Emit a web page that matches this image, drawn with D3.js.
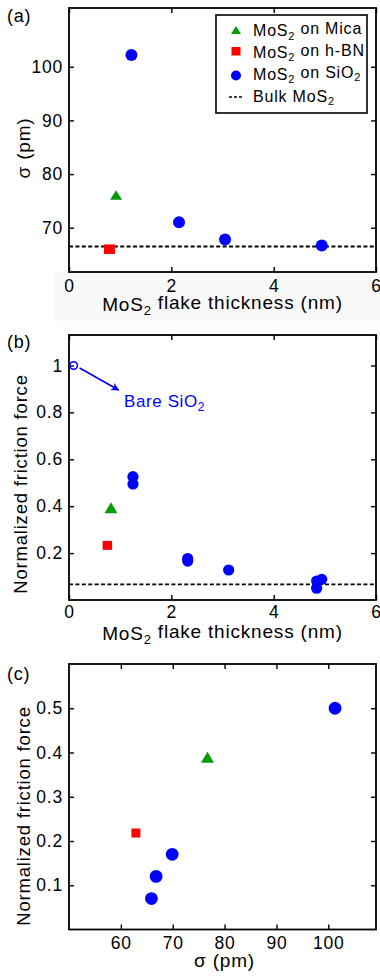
<!DOCTYPE html>
<html><head><meta charset="utf-8">
<script src="https://cdn.jsdelivr.net/npm/d3@7"></script>
<style>
body{margin:0;background:#fff}
svg text{font-family:"Liberation Sans",Arial,Helvetica,sans-serif;fill:#000}
</style></head><body>
<svg id="chart" width="380" height="976"></svg>
<script>
// ---------- data ----------
// panel (a): sigma (pm) vs MoS2 flake thickness (nm)
const aMicaX = [0.92],  aMicaY = [76.1];
const aHbnX  = [0.79],  aHbnY  = [66.0];
const aSiO2X = [1.22, 2.15, 3.05, 4.94];
const aSiO2Y = [102.2, 71.0, 67.8, 66.7];
const aBulk  = 66.5;
const aXTicks = [0, 2, 4, 6];
const aYTicks = [70, 80, 90, 100];

// panel (b): normalized friction force vs thickness
const bMicaX = [0.82],  bMicaY = [0.393];
const bHbnX  = [0.75],  bHbnY  = [0.233];
const bSiO2X = [1.25, 1.25, 2.32, 2.32, 3.12, 4.84, 4.84, 4.94];
const bSiO2Y = [0.526, 0.495, 0.177, 0.166, 0.128, 0.081, 0.050, 0.088];
const bBareX = [0.09],  bBareY = [1.0];
const bBulk  = 0.067;
const bXTicks = [0, 2, 4, 6];
const bYTicks = [0.2, 0.4, 0.6, 0.8, 1];

// panel (c): normalized friction force vs sigma
const cMicaX = [76.7],  cMicaY = [0.389];
const cHbnX  = [62.9],  cHbnY  = [0.218];
const cSiO2X = [101.3, 69.9, 66.8, 65.9];
const cSiO2Y = [0.50, 0.17, 0.12, 0.07];
const cXTicks = [60, 70, 80, 90, 100];
const cYTicks = [0.1, 0.2, 0.3, 0.4, 0.5];

const GREEN = "#079a07", RED = "#ff0000", BLUE = "#0000ff";
const FONT_TICK = 17.5, LS = "0.8px";

const svg = d3.select("#chart");
const L = 69, R = 376;

// faint grey band seen under panel (a)
svg.append("rect").attr("x", 54).attr("y", 272).attr("width", 326).attr("height", 49).attr("fill", "#f9f9f9");

function mos2(sel, before, after, subSize) {
  sel.append("tspan").text(before + "MoS");
  sel.append("tspan").attr("font-size", subSize).attr("dy", "0.32em").text("2");
  sel.append("tspan").attr("dy", "-0.32em").text(after);
}
function sio2(sel, before, subSize) {
  sel.append("tspan").text(before + "SiO");
  sel.append("tspan").attr("font-size", subSize).attr("dy", "0.32em").text("2");
}

function frame(g, x, y, top, bottom, xt, yt, xPad, xFmt, yFmt) {
  const ax = g.append("g").attr("transform", `translate(0,${bottom})`)
    .call(d3.axisBottom(x).tickValues(xt).tickSizeInner(-5).tickSizeOuter(0).tickPadding(xPad).tickFormat(xFmt));
  const ay = g.append("g").attr("transform", `translate(${L},0)`)
    .call(d3.axisLeft(y).tickValues(yt).tickSizeInner(-5).tickSizeOuter(0).tickPadding(6).tickFormat(yFmt));
  const at = g.append("g").attr("transform", `translate(0,${top})`)
    .call(d3.axisTop(x).tickValues(xt).tickSizeInner(-5).tickSizeOuter(0).tickFormat(""));
  const ar = g.append("g").attr("transform", `translate(${R},0)`)
    .call(d3.axisRight(y).tickValues(yt).tickSizeInner(-5).tickSizeOuter(0).tickFormat(""));
  [ax, ay, at, ar].forEach(a => {
    a.select(".domain").remove();
    a.selectAll("line").attr("stroke", "#000").attr("stroke-width", 1.4);
    a.selectAll("text").attr("font-size", FONT_TICK).style("letter-spacing", LS)
      .style("font-family", '"Liberation Sans",Arial,sans-serif').attr("fill", "#000");
  });
  g.append("rect").attr("x", L).attr("y", top).attr("width", R - L).attr("height", bottom - top)
    .attr("fill", "none").attr("stroke", "#000").attr("stroke-width", 1.8);
}

function tri(g, xs, ys, x, y, w, h, color) {
  g.selectAll(null).data(xs.map((d, i) => [d, ys[i]])).join("path")
    .attr("d", d => {
      const cx = x(d[0]), cy = y(d[1]);
      return `M${cx - w / 2},${cy + h / 2}L${cx + w / 2},${cy + h / 2}L${cx},${cy - h / 2}Z`;
    }).attr("fill", color);
}
function sq(g, xs, ys, x, y, w, h, color) {
  g.selectAll(null).data(xs.map((d, i) => [d, ys[i]])).join("rect")
    .attr("x", d => x(d[0]) - w / 2).attr("y", d => y(d[1]) - h / 2)
    .attr("width", w).attr("height", h).attr("fill", color);
}
function circ(g, xs, ys, x, y, r, color) {
  g.selectAll(null).data(xs.map((d, i) => [d, ys[i]])).join("circle")
    .attr("cx", d => x(d[0])).attr("cy", d => y(d[1])).attr("r", r).attr("fill", color);
}
function bulkLine(g, x, y, v) {
  g.append("line").attr("x1", x(0)).attr("x2", R).attr("y1", y(v)).attr("y2", y(v))
    .attr("stroke", "#000").attr("stroke-width", 1.8).attr("stroke-dasharray", "4,2.4");
}
function panelLabel(txt, yy) {
  svg.append("text").attr("x", 7).attr("y", yy).attr("font-size", 18).style("letter-spacing", LS).text(txt);
}

// ---------- panel (a) ----------
{
  const top = 8, bottom = 272;
  const x = d3.scaleLinear().domain([0, 6]).range([L, R]);
  const y = d3.scaleLinear().domain([61.75, 110.95]).range([bottom, top]);
  const g = svg.append("g");
  bulkLine(g, x, y, aBulk);
  frame(g, x, y, top, bottom, aXTicks, aYTicks, 8, d3.format("d"), d3.format("d"));
  tri(g, aMicaX, aMicaY, x, y, 12, 9.5, GREEN);
  sq(g, aHbnX, aHbnY, x, y, 11, 9.5, RED);
  circ(g, aSiO2X, aSiO2Y, x, y, 6, BLUE);
  // axis titles
  const xt = g.append("text").attr("x", (L + R) / 2).attr("y", 311).attr("text-anchor", "middle")
    .attr("font-size", 19).style("letter-spacing", LS);
  mos2(xt, "", " flake thickness (nm)", 13);
  g.append("text").attr("transform", "translate(30,148) rotate(-90)").attr("text-anchor", "middle")
    .attr("font-size", 19).style("letter-spacing", LS).text("σ (pm)");
  // legend
  const lg = g.append("g");
  lg.append("rect").attr("x", 216).attr("y", 15).attr("width", 151).attr("height", 98)
    .attr("fill", "#fff").attr("stroke", "#000").attr("stroke-width", 1.6);
  const lx = 236, tx = 253;
  const rows = [36, 57.5, 79.5, 101.5];
  lg.append("path").attr("d", `M${lx - 5},${rows[0] - 2}L${lx + 5},${rows[0] - 2}L${lx},${rows[0] - 10}Z`).attr("fill", GREEN);
  lg.append("rect").attr("x", lx - 4.5).attr("y", rows[1] - 10.5).attr("width", 9).attr("height", 8.5).attr("fill", RED);
  lg.append("circle").attr("cx", lx).attr("cy", rows[2] - 4).attr("r", 5).attr("fill", BLUE);
  lg.append("line").attr("x1", 229).attr("x2", 243).attr("y1", rows[3] - 4.5).attr("y2", rows[3] - 4.5)
    .attr("stroke", "#000").attr("stroke-width", 1.6).attr("stroke-dasharray", "3,2");
  let t;
  t = lg.append("text").attr("x", tx).attr("y", rows[0]).attr("font-size", 16).style("letter-spacing", LS); mos2(t, "", " on Mica", 11);
  t = lg.append("text").attr("x", tx).attr("y", rows[1]).attr("font-size", 16).style("letter-spacing", LS); mos2(t, "", " on h-BN", 11);
  t = lg.append("text").attr("x", tx).attr("y", rows[2]).attr("font-size", 16).style("letter-spacing", LS); mos2(t, "", " on ", 11);
  t.append("tspan").attr("dy", "0").text("SiO");
  t.append("tspan").attr("font-size", 11).attr("dy", "0.32em").text("2");
  t = lg.append("text").attr("x", tx).attr("y", rows[3]).attr("font-size", 16).style("letter-spacing", LS); mos2(t, "Bulk ", "", 11);
}
panelLabel("(a)", 22);

// ---------- panel (b) ----------
{
  const top = 335, bottom = 600;
  const x = d3.scaleLinear().domain([0, 6]).range([L, R]);
  const y = d3.scaleLinear().domain([0, 1.13]).range([bottom, top]);
  const g = svg.append("g");
  bulkLine(g, x, y, bBulk);
  frame(g, x, y, top, bottom, bXTicks, bYTicks, 6, d3.format("d"), d => d === 1 ? "1" : d3.format(".1f")(d));
  tri(g, bMicaX, bMicaY, x, y, 13, 11, GREEN);
  sq(g, bHbnX, bHbnY, x, y, 9.5, 9, RED);
  circ(g, bSiO2X, bSiO2Y, x, y, 5.6, BLUE);
  g.selectAll(null).data(bBareX.map((d, i) => [d, bBareY[i]])).join("circle")
    .attr("cx", d => x(d[0])).attr("cy", d => y(d[1])).attr("r", 3.8)
    .attr("fill", "none").attr("stroke", BLUE).attr("stroke-width", 1.6);
  // arrow
  const defs = svg.append("defs");
  defs.append("marker").attr("id", "ah").attr("viewBox", "0 0 10 10").attr("refX", 9).attr("refY", 5)
    .attr("markerWidth", 10).attr("markerHeight", 8).attr("markerUnits", "userSpaceOnUse").attr("orient", "auto")
    .append("path").attr("d", "M0,0L10,5L0,10L2.5,5Z").attr("fill", BLUE);
  const bx = x(bBareX[0]), by = y(bBareY[0]);
  g.append("line").attr("x1", bx + 6).attr("y1", by + 2.5).attr("x2", bx + 45).attr("y2", by + 24.5)
    .attr("stroke", BLUE).attr("stroke-width", 1.6).attr("marker-end", "url(#ah)");
  const bt = g.append("text").attr("x", 124).attr("y", 407).attr("font-size", 17).style("letter-spacing", "0.6px")
    .style("fill", BLUE);
  sio2(bt, "Bare ", 12);
  const xt = g.append("text").attr("x", (L + R) / 2).attr("y", 640).attr("text-anchor", "middle")
    .attr("font-size", 19).style("letter-spacing", LS);
  mos2(xt, "", " flake thickness (nm)", 13);
  g.append("text").attr("transform", "translate(27,484) rotate(-90)").attr("text-anchor", "middle")
    .attr("font-size", 18.5).style("letter-spacing", LS).text("Normalized friction force");
}
panelLabel("(b)", 348);

// ---------- panel (c) ----------
{
  const top = 664, bottom = 929.5;
  const x = d3.scaleLinear().domain([50, 109.2]).range([L, R]);
  const y = d3.scaleLinear().domain([0, 0.6]).range([bottom, top]);
  const g = svg.append("g");
  frame(g, x, y, top, bottom, cXTicks, cYTicks, 7, d3.format("d"), d3.format(".1f"));
  tri(g, cMicaX, cMicaY, x, y, 13, 11, GREEN);
  sq(g, cHbnX, cHbnY, x, y, 9, 9, RED);
  circ(g, cSiO2X, cSiO2Y, x, y, 6.4, BLUE);
  g.append("text").attr("x", (L + R) / 2 + 2).attr("y", 967).attr("text-anchor", "middle")
    .attr("font-size", 19).style("letter-spacing", LS).text("σ (pm)");
  g.append("text").attr("transform", "translate(30,816) rotate(-90)").attr("text-anchor", "middle")
    .attr("font-size", 18.5).style("letter-spacing", LS).text("Normalized friction force");
}
panelLabel("(c)", 680);
</script>
</body></html>
